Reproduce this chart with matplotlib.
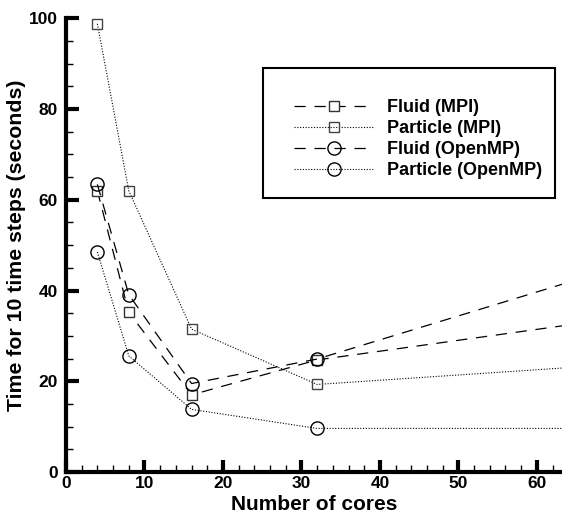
import matplotlib.pyplot as plt
from matplotlib.patches import Rectangle
from matplotlib.ticker import MultipleLocator

plt.rcParams['font.family'] = ['Liberation Sans', 'DejaVu Sans']
plt.rcParams['font.weight'] = 'bold'

# data
cores = [4, 8, 16, 32, 64]
fluid_mpi = [62.0, 35.2, 17.0, 24.7, 32.4]
particle_mpi = [98.8, 62.0, 31.5, 19.3, 23.0]
fluid_omp = [63.4, 39.1, 19.5, 24.9, 41.8]
particle_omp = [48.5, 25.6, 13.8, 9.6, 9.6]

fig = plt.figure(figsize=(5.62, 5.19), dpi=100)
ax = fig.add_axes([0.1174, 0.0906, 0.8826, 0.874])

dash = (0, (9, 7))
dot = (0, (1, 1.5))
shown = [0, 1, 2, 3]  # last point lies past the right edge

ax.plot(cores, fluid_mpi, color='black', lw=0.9, ls=dash, marker='s', ms=7.5,
        markevery=shown, mfc='white', mec='#333333', mew=1.0,
        label='Fluid (MPI)', zorder=3)
ax.plot(cores, particle_mpi, color='black', lw=0.8, ls=dot, marker='s', ms=7.5,
        markevery=shown, mfc='none', mec='#444444', mew=1.0,
        label='Particle (MPI)', zorder=3)
ax.plot(cores, fluid_omp, color='black', lw=0.9, ls=dash, marker='o', ms=9.5,
        markevery=shown, mfc='none', mec='black', mew=1.0,
        label='Fluid (OpenMP)', zorder=3)
ax.plot(cores, particle_omp, color='black', lw=0.8, ls=dot, marker='o', ms=9.5,
        markevery=shown, mfc='none', mec='black', mew=1.0,
        label='Particle (OpenMP)', zorder=3)

ax.set_xlim(0, 63.2)
ax.set_ylim(0, 100)
ax.xaxis.set_major_locator(MultipleLocator(10))
ax.xaxis.set_minor_locator(MultipleLocator(2))
ax.yaxis.set_major_locator(MultipleLocator(20))
ax.yaxis.set_minor_locator(MultipleLocator(5))

for s in ['top', 'right']:
    ax.spines[s].set_visible(False)
for s in ['left', 'bottom']:
    ax.spines[s].set_linewidth(3)

ax.tick_params(which='major', direction='in', length=9, width=3,
               labelsize=12.5)
ax.tick_params(axis='y', which='major', pad=6)
ax.tick_params(axis='x', which='major', pad=3)
ax.tick_params(which='minor', direction='in', length=5, width=1)
for lab in ax.get_xticklabels() + ax.get_yticklabels():
    lab.set_fontweight('bold')

ax.set_xlabel('Number of cores', fontsize=15, fontweight='bold', labelpad=3)
ax.set_ylabel('Time for 10 time steps (seconds)', fontsize=15.3,
              fontweight='bold', labelpad=2)

# legend box drawn separately to get the roomy frame
fig.patches.append(Rectangle((263 / 562, 1 - 198 / 519), 292 / 562, 130 / 519,
                             transform=fig.transFigure, fill=False,
                             edgecolor='black', lw=1.5))
leg = ax.legend(loc='upper left', bbox_to_anchor=(285 / 562, 1 - 90 / 519),
                bbox_transform=fig.transFigure, frameon=False,
                prop={'weight': 'bold', 'size': 13}, handlelength=4.4,
                handletextpad=0.75, labelspacing=0.22, borderpad=0)

fig.savefig('out.png', dpi=100)
